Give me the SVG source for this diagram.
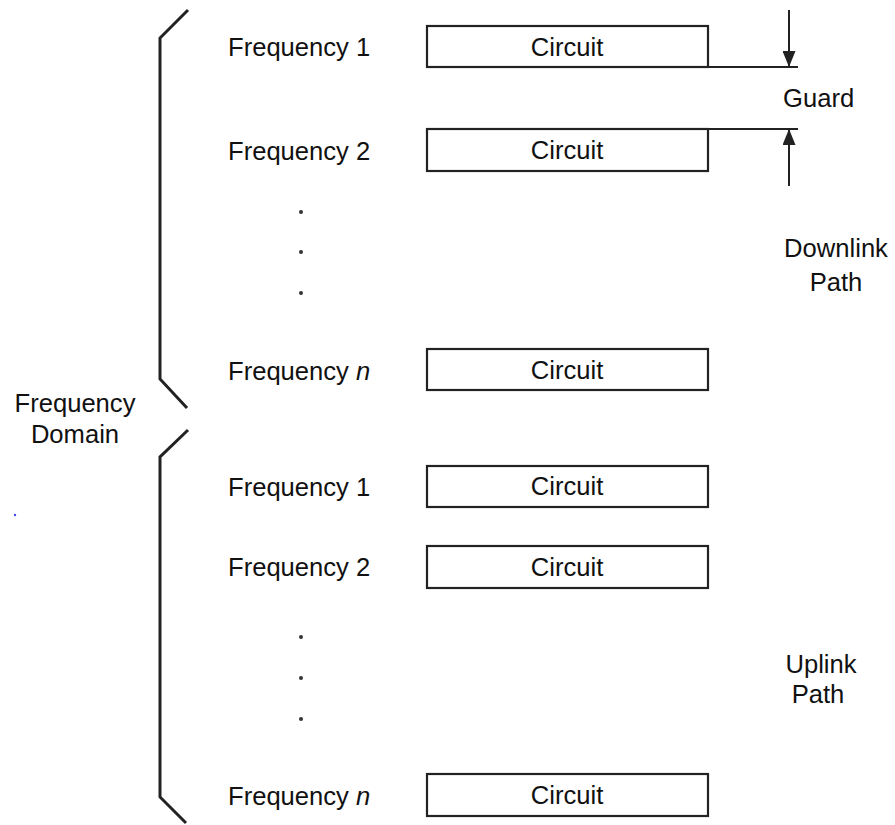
<svg xmlns="http://www.w3.org/2000/svg" width="895" height="825" viewBox="0 0 895 825">
<style>
text{font-family:"Liberation Sans",Arial,sans-serif;font-size:25.6px;fill:#111}
.box{fill:#fff;stroke:#222;stroke-width:2.2}
.br{fill:none;stroke:#222;stroke-width:3}
.ln{fill:none;stroke:#222;stroke-width:2}
.c{text-anchor:middle}
.dot{fill:#333}
</style>
<defs>
<marker id="ah" viewBox="0 0 16 13" refX="16" refY="6.5" markerWidth="16" markerHeight="13" markerUnits="userSpaceOnUse" orient="auto">
<path d="M0,0 L16,6.5 L0,13 Z" fill="#222"/>
</marker>
</defs>
<rect width="895" height="825" fill="#fff"/>
<g id="brackets">
<polyline class="br" points="188,10 160,38 160,379 187,408"/>
<polyline class="br" points="188,430 160,457 160,797 186,823"/>
</g>
<g id="domain-label">
<text class="c" x="75" y="412">Frequency</text>
<text class="c" x="75" y="443">Domain</text>
</g>
<circle cx="15" cy="515" r="1.2" fill="#4444ff"/>
<g id="dl-f1"><text x="228" y="56">Frequency 1</text><rect class="box" x="427" y="26" width="281" height="41"/><text class="c" x="567" y="56">Circuit</text></g>
<g id="dl-f2"><text x="228" y="160">Frequency 2</text><rect class="box" x="427" y="129" width="281" height="42"/><text class="c" x="567" y="159">Circuit</text></g>
<g id="dl-dots"><circle class="dot" cx="301" cy="212" r="2"/><circle class="dot" cx="301" cy="252" r="2"/><circle class="dot" cx="301" cy="293" r="2"/></g>
<g id="dl-fn"><text x="228" y="380">Frequency <tspan font-style="italic">n</tspan></text><rect class="box" x="427" y="349" width="281" height="41"/><text class="c" x="567" y="379">Circuit</text></g>
<g id="ul-f1"><text x="228" y="496">Frequency 1</text><rect class="box" x="427" y="466" width="281" height="41"/><text class="c" x="567" y="495">Circuit</text></g>
<g id="ul-f2"><text x="228" y="576">Frequency 2</text><rect class="box" x="427" y="546" width="281" height="42"/><text class="c" x="567" y="576">Circuit</text></g>
<g id="ul-dots"><circle class="dot" cx="301" cy="637" r="2"/><circle class="dot" cx="301" cy="678" r="2"/><circle class="dot" cx="301" cy="719" r="2"/></g>
<g id="ul-fn"><text x="228" y="805">Frequency <tspan font-style="italic">n</tspan></text><rect class="box" x="427" y="774" width="281" height="42"/><text class="c" x="567" y="804">Circuit</text></g>
<g id="guard">
<text x="783" y="107">Guard</text>
</g>
<g id="connectors">
<line class="ln" x1="708" y1="67" x2="798" y2="67"/>
<line class="ln" x1="708" y1="129" x2="798" y2="129"/>
<line class="ln" x1="789" y1="10" x2="789" y2="67" marker-end="url(#ah)"/>
<line class="ln" x1="789" y1="186" x2="789" y2="129" marker-end="url(#ah)"/>
</g>
<g id="downlink-label">
<text class="c" x="836" y="257">Downlink</text>
<text class="c" x="836" y="291">Path</text>
</g>
<g id="uplink-label">
<text class="c" x="821" y="673">Uplink</text>
<text class="c" x="818" y="703">Path</text>
</g>
</svg>
